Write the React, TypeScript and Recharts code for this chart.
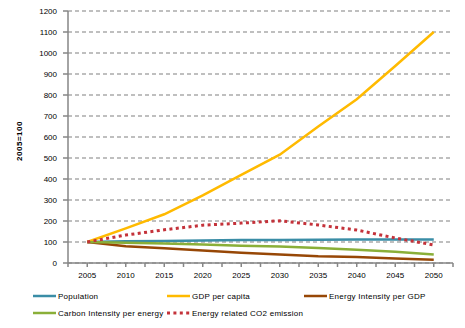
import React from "react";
import { LineChart, Line, XAxis, YAxis, CartesianGrid } from "recharts";

const years = [2005, 2010, 2015, 2020, 2025, 2030, 2035, 2040, 2045, 2050];
const population = [100, 103, 105, 107, 109, 110, 111, 112, 112, 112];
const gdpPerCapita = [100, 165, 232, 322, 420, 516, 650, 780, 938, 1100];
const energyIntensity = [100, 80, 70, 60, 49, 40, 32, 29, 22, 16];
const carbonIntensity = [100, 97, 93, 88, 82, 78, 71, 63, 54, 41];
const co2Emission = [100, 133, 158, 180, 190, 201, 181, 157, 119, 86];

const xTicks = [2002.5, 2005, 2007.5, 2010, 2012.5, 2015, 2017.5, 2020, 2022.5, 2025, 2027.5, 2030, 2032.5, 2035, 2037.5, 2040, 2042.5, 2045, 2047.5, 2050, 2052.5];
const yTicks = [0, 100, 200, 300, 400, 500, 600, 700, 800, 900, 1000, 1100, 1200];

const series = [
  { key: "population", name: "Population", color: "#3A8DA6", dashed: false, values: population },
  { key: "gdp", name: "GDP per capita", color: "#FFBA00", dashed: false, values: gdpPerCapita },
  { key: "energy", name: "Energy Intensity per GDP", color: "#974706", dashed: false, values: energyIntensity },
  { key: "carbon", name: "Carbon Intensity per energy", color: "#8AAF38", dashed: false, values: carbonIntensity },
  { key: "co2", name: "Energy related CO2 emission", color: "#C4323A", dashed: true, values: co2Emission },
];

const data = years.map((y, i) => {
  const row: Record<string, number> = { year: y };
  series.forEach((s) => {
    row[s.key] = s.values[i];
  });
  return row;
});

const FONT = "'Liberation Sans', Arial, sans-serif";

function LegendBlock() {
  const colLine = [33, 167, 304];
  const rowY = [296, 313];
  return (
    <div style={{ position: "absolute", left: 0, top: 0, width: 465, height: 328, pointerEvents: "none" }}>
      {series.map((s, i) => {
        const col = i % 3;
        const row = Math.floor(i / 3);
        return (
          <div
            key={s.key}
            style={{
              position: "absolute",
              left: colLine[col],
              top: rowY[row] - 6,
              height: 12,
              display: "flex",
              alignItems: "center",
              whiteSpace: "nowrap",
              fontFamily: FONT,
              fontSize: 8,
              letterSpacing: 0.25,
              color: "#000",
            }}
          >
            <svg width={23} height={6} style={{ marginRight: 2 }}>
              <line
                x1={0}
                y1={3}
                x2={23}
                y2={3}
                stroke={s.color}
                strokeWidth={s.dashed ? 3 : 2.5}
                strokeDasharray={s.dashed ? "3 3.4" : undefined}
              />
            </svg>
            <span>{s.name}</span>
          </div>
        );
      })}
    </div>
  );
}

export default function App() {
  return (
    <div style={{ position: "absolute", left: 0, top: 0, width: 465, height: 328, background: "#fff" }}>
      <LineChart
        width={465}
        height={328}
        data={data}
        margin={{ top: 11, right: 12, left: 0, bottom: 35 }}
      >
        <CartesianGrid
          vertical={false}
          stroke="#808080"
          strokeDasharray="4 3"
          strokeWidth={1.2}
        />
        <XAxis
          dataKey="year"
          type="number"
          domain={[2002.5, 2052.5]}
          ticks={xTicks}
          interval={0}
          height={30}
          tickSize={4}
          tickMargin={5}
          tickFormatter={(v: number) => (v % 5 === 0 ? String(v) : "")}
          stroke="#868686"
          strokeWidth={1.5}
          tick={{ fill: "#000", fontSize: 8, fontFamily: FONT }}
        />
        <YAxis
          type="number"
          domain={[0, 1200]}
          ticks={yTicks}
          interval={0}
          width={68}
          tickSize={5}
          tickMargin={6}
          stroke="#868686"
          strokeWidth={1.5}
          tick={{ fill: "#000", fontSize: 8, fontFamily: FONT }}
          label={{
            value: "2005=100",
            angle: -90,
            position: "insideLeft",
            offset: 19,
            dy: 4,
            style: { fontSize: 8, fontWeight: "bold", fontFamily: FONT, fill: "#000", letterSpacing: 0.5, textAnchor: "middle" },
          }}
        />
        {series.map((s) => (
          <Line
            key={s.key}
            type="linear"
            dataKey={s.key}
            name={s.name}
            stroke={s.color}
            strokeWidth={s.dashed ? 3 : 2.5}
            strokeDasharray={s.dashed ? "3 3.4" : undefined}
            dot={false}
            activeDot={false}
            isAnimationActive={false}
          />
        ))}
      </LineChart>
      <LegendBlock />
    </div>
  );
}
